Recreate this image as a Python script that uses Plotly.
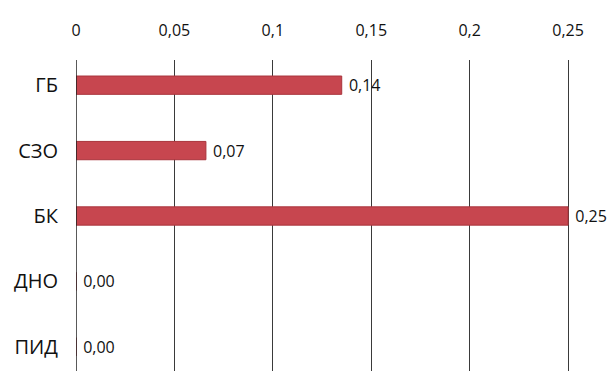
import plotly.graph_objects as go

categories = ["ГБ", "СЗО", "БК", "ДНО", "ПИД"]
values = [0.135, 0.066, 0.25, 0.0, 0.0]
x_ticks = [0, 0.05, 0.1, 0.15, 0.2, 0.25]

bar_color = "#c7464f"
font_family = "'Open Sans', Lato, sans-serif"

fig = go.Figure(
    go.Bar(
        x=values,
        y=categories,
        orientation="h",
        width=0.28,
        marker=dict(color=bar_color, line=dict(color="#a9343c", width=1)),
        text=values,
        texttemplate="\u00a0%{x:.2f}",
        textposition="outside",
        constraintext="none",
        textfont=dict(size=16, color="#111111", family=font_family),
        cliponaxis=False,
        hoverinfo="skip",
    )
)

fig.update_layout(
    width=611,
    height=371,
    margin=dict(l=76, r=0, t=60, b=0),
    paper_bgcolor="white",
    plot_bgcolor="white",
    separators=",.",
    showlegend=False,
    font=dict(family=font_family, color="#111111"),
)

fig.update_xaxes(
    side="top",
    range=[0, 0.2718],
    tickvals=x_ticks,
    showgrid=True,
    gridcolor="#3a3a3a",
    gridwidth=1,
    zeroline=False,
    showline=False,
    ticks="",
    ticklabelstandoff=20,
    tickfont=dict(size=16, color="#111111"),
    fixedrange=True,
)

fig.update_yaxes(
    type="category",
    categoryorder="array",
    categoryarray=categories,
    range=[4.37, -0.385],
    showgrid=False,
    zeroline=False,
    showline=False,
    ticks="",
    ticklabelstandoff=17,
    tickfont=dict(size=20, color="#111111"),
    fixedrange=True,
)

# darker vertical axis line at zero
fig.add_vline(x=0, line=dict(color="#222222", width=1.5))

fig.write_html("out.html")
